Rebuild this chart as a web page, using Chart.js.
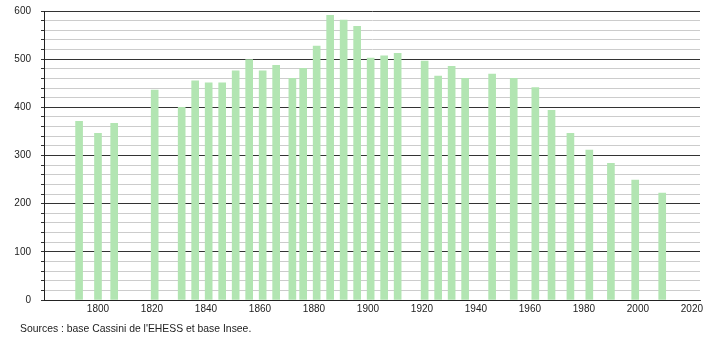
<!DOCTYPE html>
<html>
<head>
<meta charset="utf-8">
<script src="https://cdn.jsdelivr.net/npm/chart.js@4"></script>
<style>
  html, body { margin: 0; padding: 0; background: #fff; }
  #wrap { position: relative; width: 710px; height: 340px; }
  #chart { display: block; }
  #source {
    position: absolute; left: 20px; top: 323px;
    font: 10.4px "Liberation Sans", Arial, sans-serif; color: #222;
  }
</style>
</head>
<body>
<div id="wrap">
  <canvas id="chart" width="710" height="340"></canvas>
  <div id="source">Sources : base Cassini de l'EHESS et base Insee.</div>
</div>
<script>
'use strict';

const years = [1793, 1800, 1806, 1821, 1831, 1836, 1841, 1846, 1851, 1856, 1861, 1866,
  1872, 1876, 1881, 1886, 1891, 1896, 1901, 1906, 1911, 1921, 1926, 1931, 1936,
  1946, 1954, 1962, 1968, 1975, 1982, 1990, 1999, 2009];
const population = [371, 346, 367, 436, 400, 455, 451, 451, 476, 499, 476, 487,
  460, 481, 527, 591, 581, 568, 502, 507, 512, 496, 465, 485, 460,
  469, 460, 441, 394, 346, 311, 284, 249, 222];
const yearTicks = [1800, 1820, 1840, 1860, 1880, 1900, 1920, 1940, 1960, 1980, 2000, 2020];

const font = { family: '"Liberation Sans", Arial, sans-serif', size: 10 };

new Chart(document.getElementById('chart'), {
  type: 'bar',
  data: {
    datasets: [{
      data: years.map((y, i) => ({ x: y, y: population[i] })),
      backgroundColor: '#b2e5b2',
      borderWidth: 0,
      barThickness: 7,
    }],
  },
  options: {
    responsive: false,
    animation: false,
    layout: { padding: { top: 11, right: 10, left: 0, bottom: 0 } },
    plugins: { legend: { display: false }, tooltip: { enabled: false } },
    scales: {
      x: {
        type: 'linear',
        min: 1780,
        max: 2023,
        offset: false,
        afterFit: s => { s.height = 40; s.paddingLeft = 0; s.paddingRight = 0; },
        afterBuildTicks: s => { s.ticks = yearTicks.map(v => ({ value: v })); },
        ticks: { color: '#222', font, padding: 3, maxRotation: 0, autoSkip: false,
          callback: v => String(v) },
        grid: { display: false, drawTicks: false },
        border: { display: true, color: '#222', width: 1 },
      },
      y: {
        min: 0,
        max: 600,
        afterFit: s => { s.width = 44; s.paddingTop = 0; s.paddingBottom = 0; },
        ticks: { stepSize: 20, color: '#222', font, padding: 10, autoSkip: false,
          callback: v => (v % 100 === 0 ? String(v) : '') },
        grid: {
          color: c => (c.tick && c.tick.value % 100 === 0 ? '#333' : '#cccccc'),
          tickColor: '#333',
          tickLength: 3,
          lineWidth: 1,
        },
        border: { display: true, color: '#222', width: 1 },
      },
    },
  },
});
</script>
</body>
</html>
